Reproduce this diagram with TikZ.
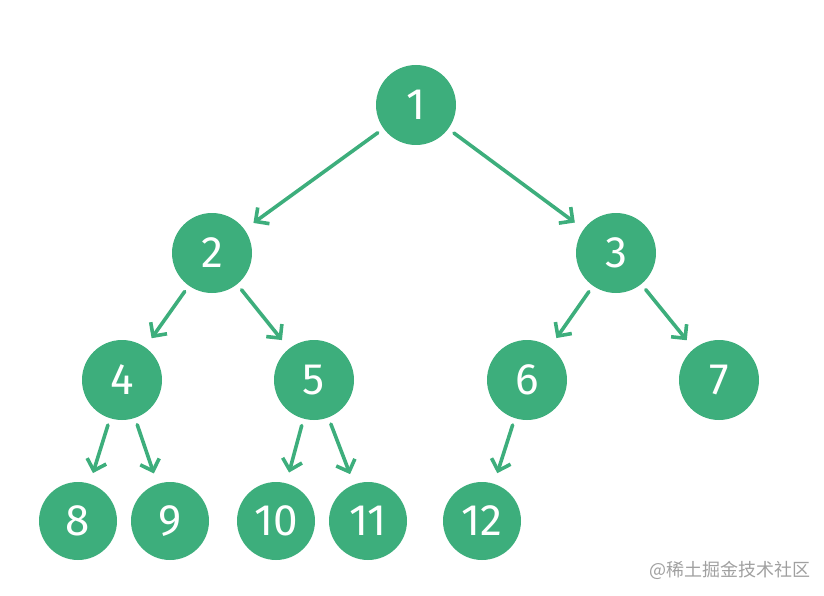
\documentclass[tikz,border=0pt]{standalone}
\usepackage{fontspec}
\setmainfont{Fira Sans}
\newfontfamily\cjk{Noto Sans CJK SC}
\usetikzlibrary{arrows.meta}
\definecolor{leaf}{RGB}{61,174,124}
\definecolor{mark}{RGB}{160,160,160}
\begin{document}
\begin{tikzpicture}[x=1pt,y=-1pt,
  tnode/.style={circle,fill=leaf,minimum size=80pt,inner sep=0pt,text=white,font=\fontsize{44}{44}\selectfont},
  edge/.style={draw=leaf,line width=3.6pt,line cap=round,shorten <=7pt,shorten >=11pt,
    -{Straight Barb[length=10pt,width=20pt,line width=3.6pt]}}]
\useasboundingbox (0,0) rectangle (824,596);
\node[tnode] (n1) at (416,105) {1};
\node[tnode] (n2) at (212,253) {2};
\node[tnode] (n3) at (616,253) {3};
\node[tnode] (n4) at (122,380) {4};
\node[tnode] (n5) at (314,380) {5};
\node[tnode] (n6) at (527,380) {6};
\node[tnode] (n7) at (719,380) {7};
\node[tnode,minimum size=78pt] (n8) at (78,521) {8};
\node[tnode,minimum size=78pt] (n9) at (170,521) {9};
\node[tnode,minimum size=78pt] (n10) at (276,521) {10};
\node[tnode,minimum size=78pt] (n11) at (368,521) {11};
\node[tnode,minimum size=78pt] (n12) at (482,521) {12};
\draw[edge] (n1) -- (n2);
\draw[edge] (n1) -- (n3);
\draw[edge] (n2) -- (n4);
\draw[edge] (n2) -- (n5);
\draw[edge] (n3) -- (n6);
\draw[edge] (n3) -- (n7);
\draw[edge] (n4) -- (n8);
\draw[edge] (n4) -- (n9);
\draw[edge] (n5) -- (n10);
\draw[edge] (n5) -- (n11);
\draw[edge] (n6) -- (n12);
\node[text=mark,font=\cjk\fontsize{18}{18}\selectfont,anchor=east] (wm) at (814,570) {@稀土掘金技术社区};
\end{tikzpicture}
\end{document}
